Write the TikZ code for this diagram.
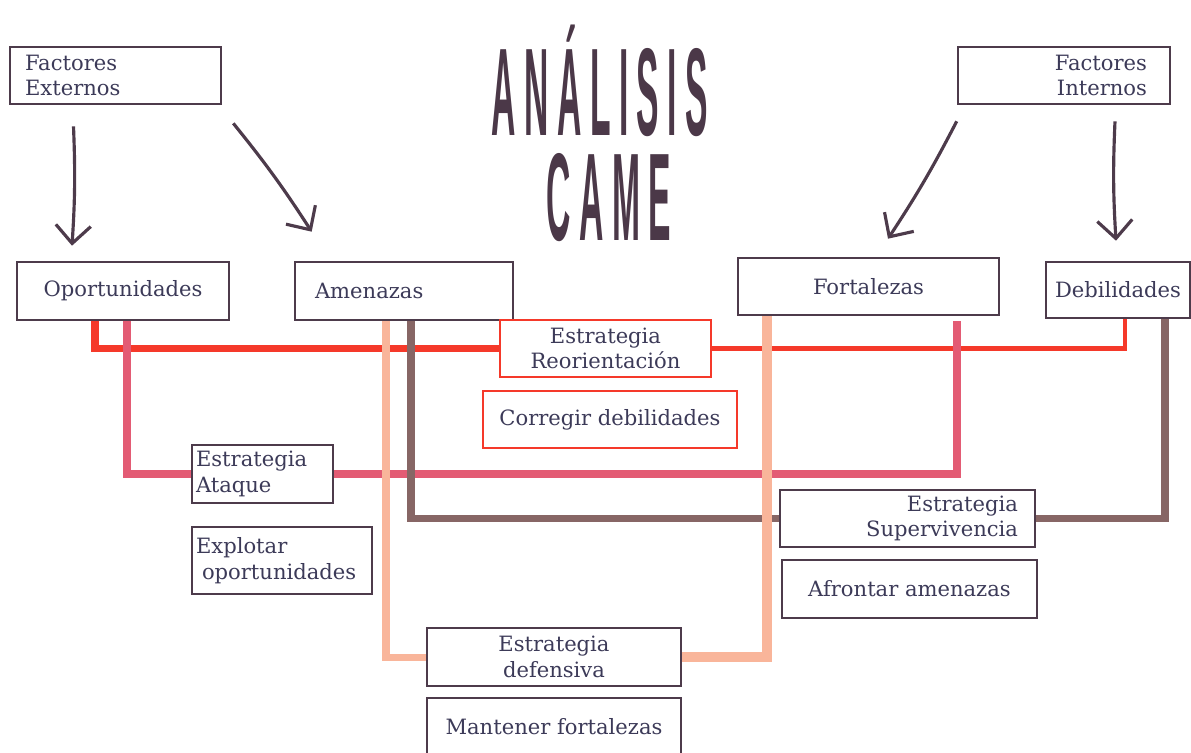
\documentclass[tikz,border=0pt]{standalone}
\usepackage{fontspec}
\setmainfont{DejaVu Serif}
\newfontfamily\titulofont[LetterSpace=25]{Liberation Sans}
\usepackage{tikz}
\usetikzlibrary{calc,arrows.meta}

\definecolor{borde}{HTML}{4D3B4B}
\definecolor{texto}{HTML}{3C3A58}
\definecolor{titulo}{HTML}{4B3848}
\definecolor{rojo}{HTML}{F5392A}
\definecolor{rosa}{HTML}{E35B74}
\definecolor{cafe}{HTML}{876665}
\definecolor{durazno}{HTML}{F9B59A}

\begin{document}
\begin{tikzpicture}[x=0.02cm, y=-0.02cm,
    caja/.style={draw=borde, line width=1.5pt, text=texto, inner ysep=2pt,
        font=\fontsize{12}{14.5}\selectfont},
    cajaroja/.style={caja, draw=rojo},
    titulo/.style={text=titulo, inner sep=0pt, xscale=0.27, align=center,
        font=\titulofont\bfseries\fontsize{71}{59.7}\selectfont},
    flecha/.style={draw=borde, line width=1.8pt,
        -{Straight Barb[length=0.36cm, width=0.7cm]}},
    conector/.style={line width=4pt}]
    \useasboundingbox (0,0) rectangle (1191,752);

    % titulo
    \node[titulo, anchor=base] (tit) at (600,240) {ANÁLISIS\\\hspace*{38pt}CAME};

    % factores
    \node[caja, text width=3.62cm, inner xsep=0.3cm, align=left, minimum height=1.14cm]
        (fext) at (115.5,75.5) {Factores\\Externos};
    \node[caja, text width=3.32cm, inner xsep=0.46cm, align=right, minimum height=1.14cm]
        (fint) at (1064,75.5) {Factores\\Internos};

    % FODA
    \node[caja, minimum width=4.24cm, minimum height=1.16cm] (oport) at (123,291) {Oportunidades};
    \node[caja, text width=3.56cm, inner xsep=0.4cm, align=left, minimum height=1.16cm]
        (amen) at (404,291) {Amenazas};
    \node[caja, minimum width=5.22cm, minimum height=1.14cm] (fort) at (868.5,286.5) {Fortalezas};
    \node[caja, minimum width=2.88cm, minimum height=1.12cm] (debil) at (1118,290) {Debilidades};

    % estrategias
    \node[cajaroja, align=center, minimum width=4.22cm, minimum height=1.14cm]
        (reor) at (605.5,348.5) {Estrategia\\Reorientación};
    \node[cajaroja, minimum width=5.08cm, minimum height=1.14cm]
        (correg) at (610,419.5) {Corregir debilidades};
    \node[caja, text width=2.66cm, inner xsep=0.08cm, align=left, minimum height=1.16cm]
        (ataq) at (262.5,474) {Estrategia\\Ataque};
    \node[caja, text width=3.44cm, inner xsep=0.08cm, align=left, minimum height=1.34cm]
        (explo) at (282,560.5) {Explotar\\\hspace*{0.12cm}oportunidades};
    \node[caja, text width=4.42cm, inner xsep=0.34cm, align=right, minimum height=1.14cm]
        (superv) at (907.5,518.5) {Estrategia\\Supervivencia};
    \node[caja, minimum width=5.1cm, minimum height=1.16cm]
        (afront) at (909.5,589) {Afrontar amenazas};
    \node[caja, align=center, minimum width=5.08cm, minimum height=1.16cm]
        (defen) at (554,657) {Estrategia\\defensiva};
    \node[caja, minimum width=5.08cm, minimum height=1.16cm]
        (mant) at (554,727) {Mantener fortalezas};

    % flechas
    \draw[flecha] ($(fext.south)+(-42,21)$) to[bend left=3] ($(oport.north)+(-51,-15)$);
    \draw[flecha] ($(fext.south east)+(11,18)$) to[bend left=3] ($(amen.north west)+(18,-29)$);
    \draw[flecha] ($(fint.south west)+(0,16)$) to[bend left=3] ($(fort.north)+(19.5,-18)$);
    \draw[flecha] ($(fint.south)+(51,16)$) to[bend right=3] ($(debil.north)+(-2,-20)$);

    % conectores
    \draw[conector, rojo] ($(oport.south)+(-28,0)$) |- (reor.west);
    \draw[conector, rojo, line width=2.8pt] (reor.east) -| ($(debil.south)+(7,0)$);
    \draw[conector, rosa] ($(oport.south)+(4,0)$) |- (ataq.west);
    \draw[conector, rosa] (ataq.east) -| ($(fort.south)+(88.5,5)$);
    \draw[conector, cafe] ($(amen.south)+(7,0)$) |- (superv.west);
    \draw[conector, cafe] (superv.east) -| ($(debil.south)+(47,0)$);
    \draw[conector, durazno] ($(amen.south)+(-18,0)$) |- (defen.west);
    \draw[conector, durazno, line width=5.7pt] (defen.east) -| ($(fort.south)+(-101.5,0)$);
\end{tikzpicture}
\end{document}
